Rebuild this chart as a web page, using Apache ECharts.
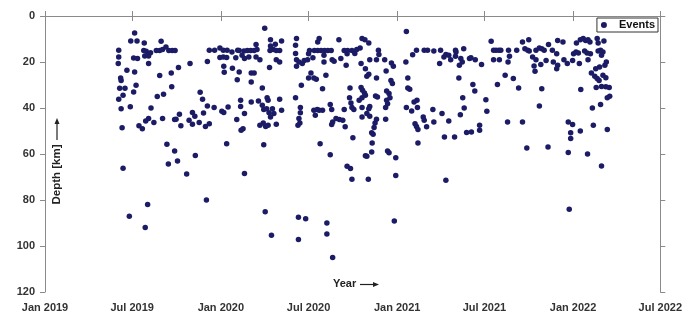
<!DOCTYPE html>
<html>
<head>
<meta charset="utf-8">
<script src="https://cdn.jsdelivr.net/npm/echarts@6/dist/echarts.min.js"></script>
<style>html,body{margin:0;padding:0;background:#fff;}#c{width:685px;height:327px;}</style>
</head>
<body>
<div id="c"></div>
<script>
// Event dates as days since 2019-01-01, and depths in km
const eventDay = [
 186,178,191,206,241,153,153,152,184,192,205,210,215,219,207,215,215,231,238,244,251,257,264,270,170,186,238,262,157,158,189,155,166,184,263,162,153,233,246,158,177,220,244,269,215,209,226,195,202,160,253,269,256,162,
 277,301,322,327,337,351,341,352,363,370,378,388,400,337,363,370,377,371,372,389,396,399,279,272,282,299,306,311,306,320,329,333,341,367,371,380,398,377,275,312,294,
 456,468,491,522,438,440,403,413,420,427,434,467,474,480,487,468,478,520,520,522,527,534,409,414,423,438,446,480,487,466,522,403,428,434,428,451,532,461,463,487,520,406,406,428,443,451,454,460,465,472,475,468,491,530,530,414,411,407,446,453,458,463,480,527,529,525,454,414,
 566,569,610,658,664,549,559,566,573,580,587,594,547,538,545,556,579,579,596,600,614,621,628,627,637,643,647,654,625,656,665,552,547,558,563,583,576,633,656,659,663,632,635,652,658,665,592,595,621,637,641,658,558,565,569,576,561,597,604,611,618,595,623,658,639,571,592,665,627,634,637,
 457,470,526,541,526,585,585,597,175,213,208,335,
 750,672,692,693,674,688,705,719,723,749,763,771,787,794,668,672,688,708,718,721,753,753,757,686,690,709,714,716,709,711,707,674,672,750,761,766,772,773,668,674,688,685,683,707,678,681,768,771,774,785,787,792,679,774,668,678,711,714,728,671,728,725,
 807,821,819,828,832,838,842,852,853,852,869,863,866,860,881,884,893,906,926,931,931,859,888,892,867,915,805,807,824,838,870,862,917,829,850,875,885,902,902,832,
 936,942,946,943,962,979,964,961,991,1004,996,1002,1005,1019,1026,1031,1036,1045,1053,1064,1012,1019,1015,1017,1029,1040,1055,1062,1064,939,955,972,983,1031,1026,960,991,1000,1044,
 1075,1103,1111,1117,1122,1127,1131,1146,1148,1160,1062,1077,1084,1095,1097,1102,1107,1109,1120,1125,1127,1132,1148,1153,1158,1155,1165,1162,1151,1143,1134,1141,1146,1150,1158,1164,1144,1155,1164,1171,1172,1167,1112,1136,1153,1086,1095,1091,1091,1111,1138,1167,1086,1126,1155,1088
];
const eventDepth = [
 7.4,10.9,10.9,11.7,11,14.9,17.8,20.7,18.3,18.5,15,15.3,16.5,16,17.4,17.4,20.7,15,15,14.6,13.5,15,15,15,23.6,24.3,25.9,24.8,27,28,30.1,31.4,31.4,33,30.8,34.5,36.2,35,34,40.3,39.5,40,44.6,45,44.6,45.6,46.3,47.7,49,48.6,55.8,58.7,64.3,66.2,
 22.4,20.7,33.2,36.2,39.1,39.8,14.9,14.9,13.9,14.9,14.9,15.6,14.9,19.8,18,17.8,18,21.9,24.5,22.7,18.1,27.7,42.7,44.9,47.7,45.3,42,43.6,47.1,46.3,42.2,48,46.8,41.4,42,39.6,45,55.5,63,60.7,68.7,
 5.3,10.3,10.9,9.8,12.4,14.6,15,15.2,15,15,15,15,14.6,15,15,13,12.3,12.7,16.3,19,20,20.7,17.1,18.5,17.8,17.8,19,19,20,22.4,21.9,24.3,24.8,24.8,28.7,31.3,30.1,35.5,36.6,36.2,35.5,36.6,39.3,37.4,37,38.8,40.7,40.3,42.1,40.3,42.4,43.9,41,39.8,42.1,42.4,49,49.7,47.5,46.5,48,47.5,47.1,44.6,46.5,47.5,56,68.5,
 11.3,9.8,10.3,9.8,10.3,15,15,15,15,15,15,15,16.4,19.3,19,18.1,17.1,20,19,19.7,18.5,15,15,16.4,15,16.3,14.6,13.9,21.4,20.7,22.9,24.8,27,27,27.5,25.8,31.6,31.3,31.1,32.3,33.5,35.5,37.8,36.6,35.5,34.5,38.5,40.7,40.7,39.8,40.6,39.8,41,40.7,41,41,43.2,46.1,44.6,45,45.3,47.2,48.2,43.9,52.9,55.5,60.3,60.8,65.3,66.3,71,
 85.1,95.3,87.5,88.2,97.2,90,94.8,105,87.1,82,92,80,
 6.7,11.7,14.9,16.7,19,19,19,20.4,21.9,20,16.8,14.9,14.9,14.9,26.2,25.3,27,23.9,28,29.4,27,31.3,31.9,34.8,35.2,32.6,33.7,35.5,36.6,38.1,39.8,39.3,40.3,39.8,41.3,37.4,36.6,39.8,42.4,43.6,44.9,46.5,48.5,44.9,50.8,51.4,46.8,48,49.3,43.9,45.3,48.2,55.2,55.2,61,59.1,58.7,59.5,61.6,71,69.3,89.1,
 15.2,14.9,20.7,17.8,16.7,17.1,19,14.9,15.6,17.5,14.2,18.5,20,21.4,18.5,18.1,19,21.1,11,14.9,19,27,29.8,32.6,35.5,36.4,40.6,46.1,42.4,45.6,40,42.9,41.4,52.6,52.6,50.7,50.4,47.5,49.7,71.4,
 14.9,14.9,14.9,19,14.9,14.9,17.5,20,11.3,10.3,14.2,14.9,15.2,14.9,13.9,14.2,14.9,12.4,14.9,10.6,17.8,19,21.7,24,21.1,19.3,20,16.4,21.4,29.8,25.8,27.2,31.3,31.6,39.1,46.1,46.1,57.4,57,
 11.3,11.7,10.3,9.8,10.6,10.3,11.3,9.8,11.7,10.9,22.9,19,20.7,19.3,16.4,15.6,16.1,20.7,15.2,16.1,19,16.4,15.2,14.9,15.6,17.1,20,21.4,22.2,22.9,24.8,26.2,27.2,28,25.8,26.8,31.1,30.6,30.8,31.1,34.9,35.5,32,40,38.5,46.1,47.2,50.8,53.3,50,47.5,49.3,59.4,60,65.2,84
];
const xTickDates = ['2019-01-01','2019-07-01','2020-01-01','2020-07-01','2021-01-01','2021-07-01','2022-01-01','2022-07-01'];
const xTickLabels = ['Jan 2019','Jul 2019','Jan 2020','Jul 2020','Jan 2021','Jul 2021','Jan 2022','Jul 2022'];
const seriesName = 'Events';

const DAY = 86400000;
const t0 = Date.UTC(2019, 0, 1);
const toTs = s => { const p = s.split('-').map(Number); return Date.UTC(p[0], p[1]-1, p[2]); };
const tickTs = xTickDates.map(toTs);
const points = eventDay.map((d, i) => [t0 + d * DAY, eventDepth[i]]);

const axisColor = '#8a8a8a';
const labelStyle = { color: '#333', fontWeight: 'bold', fontSize: 11, fontFamily: 'Liberation Sans, Arial, sans-serif' };
const fmtX = v => { let best = 0; for (let i = 1; i < tickTs.length; i++) if (Math.abs(tickTs[i]-v) < Math.abs(tickTs[best]-v)) best = i; return xTickLabels[best]; };

const chart = echarts.init(document.getElementById('c'), null, { renderer: 'canvas' });
chart.setOption({
  backgroundColor: '#fff',
  animation: false,
  grid: { left: 45, right: 24, top: 16, bottom: 35 },
  legend: {
    data: [seriesName], right: 27, top: 18, orient: 'horizontal',
    padding: [1, 3, 1, 4], itemWidth: 20, itemHeight: 6,
    borderColor: '#333', borderWidth: 1, backgroundColor: '#fff',
    textStyle: Object.assign({}, labelStyle, { color: '#111', lineHeight: 12 })
  },
  xAxis: [
    {
      type: 'value', position: 'bottom', min: tickTs[0], max: tickTs[tickTs.length - 1], scale: true,
      axisLine: { lineStyle: { color: axisColor, width: 1 } },
      axisTick: { show: true, length: 5, customValues: tickTs, lineStyle: { color: axisColor } },
      axisLabel: Object.assign({ margin: 10, customValues: tickTs, showMinLabel: true, showMaxLabel: true, hideOverlap: false,
        formatter: fmtX }, labelStyle),
      splitLine: { show: false }
    },
    {
      type: 'value', position: 'top', min: tickTs[0], max: tickTs[tickTs.length - 1], scale: true,
      axisLine: { lineStyle: { color: axisColor, width: 1 } },
      axisTick: { show: true, length: 5, customValues: tickTs, lineStyle: { color: axisColor } },
      axisLabel: { show: false },
      splitLine: { show: false }
    }
  ],
  yAxis: [
    {
      type: 'value', inverse: true, min: 0, max: 120, interval: 20, position: 'left',
      axisLine: { show: true, lineStyle: { color: axisColor, width: 1 } },
      axisTick: { show: true, length: 5, lineStyle: { color: axisColor } },
      axisLabel: Object.assign({ margin: 10 }, labelStyle),
      splitLine: { show: false }
    },
    {
      type: 'value', inverse: true, min: 0, max: 120, interval: 20, position: 'right',
      axisLine: { show: true, lineStyle: { color: axisColor, width: 1 } },
      axisTick: { show: true, length: 5, lineStyle: { color: axisColor } },
      axisLabel: { show: false },
      splitLine: { show: false }
    }
  ],
  series: [{
    name: seriesName, type: 'scatter', xAxisIndex: 0, yAxisIndex: 0,
    symbol: 'circle', symbolSize: 5.5,
    itemStyle: { color: '#1b1b66', opacity: 1 },
    data: points
  }],
  graphic: [
    { type: 'text', x: 57, y: 174.5, rotation: Math.PI / 2,
      style: { text: 'Depth [km]', fill: '#222', font: 'bold 11.5px Liberation Sans, Arial, sans-serif', align: 'center', verticalAlign: 'middle' } },
    { type: 'line', shape: { x1: 57, y1: 140, x2: 57, y2: 122 }, style: { stroke: '#222', lineWidth: 1.2 } },
    { type: 'polygon', shape: { points: [[57, 118], [54.5, 124], [59.5, 124]] }, style: { fill: '#222' } },
    { type: 'text', x: 333, y: 284, style: { text: 'Year', fill: '#222', font: 'bold 11px Liberation Sans, Arial, sans-serif', align: 'left', verticalAlign: 'middle' } },
    { type: 'line', shape: { x1: 360, y1: 284.5, x2: 374, y2: 284.5 }, style: { stroke: '#222', lineWidth: 1.2 } },
    { type: 'polygon', shape: { points: [[379, 284.5], [373, 282], [373, 287]] }, style: { fill: '#222' } }
  ]
});
</script>
</body>
</html>
